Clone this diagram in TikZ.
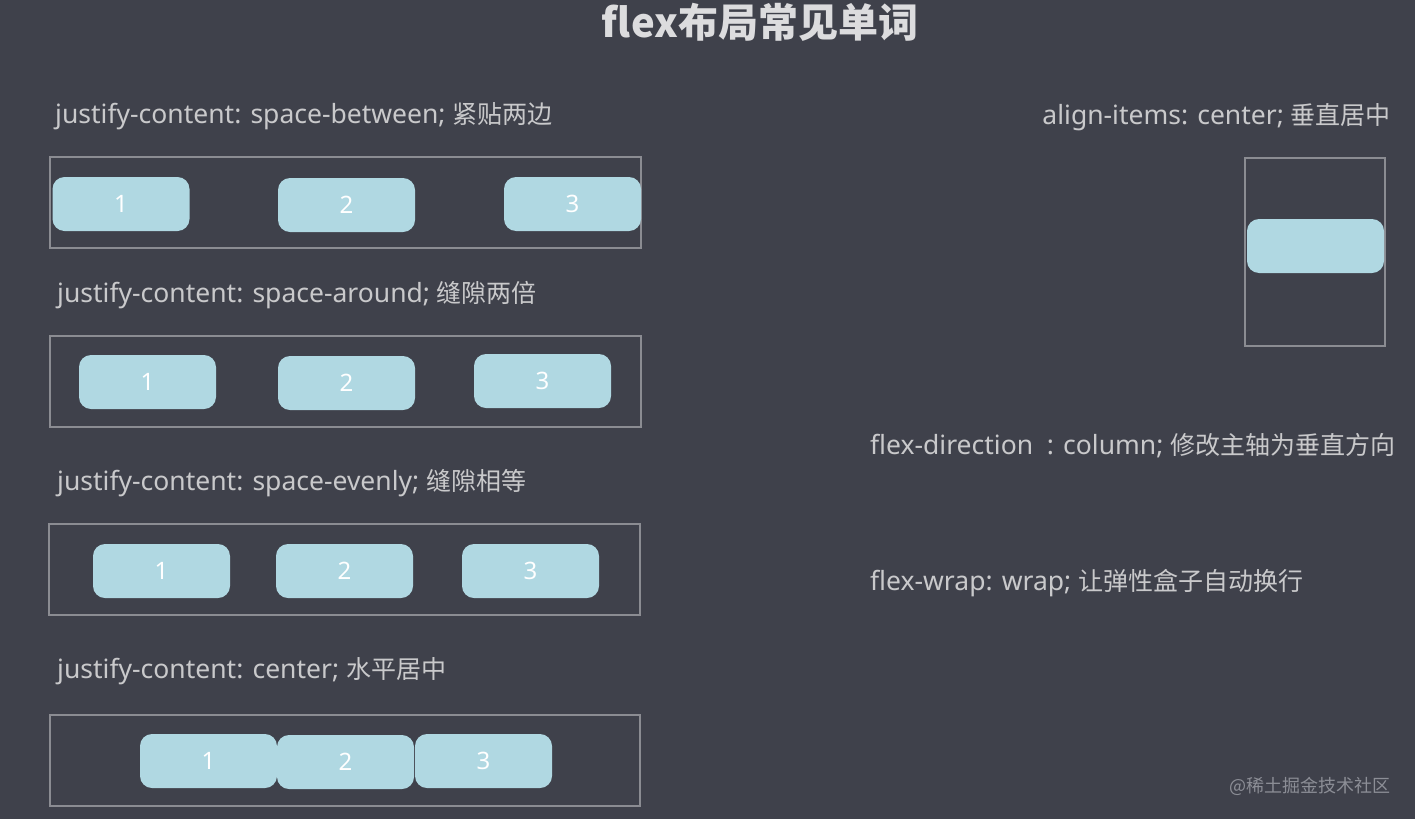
\documentclass[tikz,border=0pt]{standalone}
\usepackage{fontspec}
\setmainfont{Noto Sans}
\newfontfamily\cjk{Noto Sans CJK SC}
\usetikzlibrary{positioning}
\definecolor{bgdark}{HTML}{3F414B}
\definecolor{labelgray}{HTML}{C9C9CB}
\definecolor{framegray}{HTML}{8B8C92}
\definecolor{itemblue}{HTML}{B0D8E2}
\definecolor{markgray}{HTML}{8C8E96}
\definecolor{titlegray}{HTML}{DCDCDE}
\newcommand\zh[1]{{\cjk\fontsize{25}{28}\selectfont #1}}

\begin{document}
\begin{tikzpicture}[x=1pt,y=-1pt,
	cssline/.style={text=labelgray, font=\fontsize{26.5}{30}\selectfont, inner sep=0pt},
	frame/.style={draw=framegray, line width=1.6pt, minimum width=591pt, minimum height=91pt, inner sep=0pt},
	flexitem/.style={fill=itemblue, rounded corners=12pt, minimum width=137pt, minimum height=54pt,
		text=white, font=\fontsize{24}{28}\selectfont, inner sep=0pt}]
	\useasboundingbox[fill=bgdark] (0,0) rectangle (1415,819);
	% title
	\node[anchor=base, text=titlegray, font=\fontsize{40}{44}\selectfont\cjk\bfseries] (title) at (760,37) {flex布局常见单词};
	% space-between
	\node[cssline, anchor=base west] (between) at (55,123) {justify-content: space-between; \zh{紧贴两边}};
	\node[frame] (betweenbox) at (345.5,202.5) {};
	\node[flexitem] (b1) at (121,204) {1};
	\node[flexitem] (b2) at (346.5,205) {2};
	\node[flexitem] (b3) at (572.5,204) {3};
	% space-around
	\node[cssline, anchor=base west] (around) at (57,302) {justify-content: space-around; \zh{缝隙两倍}};
	\node[frame] (aroundbox) at (345.5,381.5) {};
	\node[flexitem] (a1) at (147.5,382) {1};
	\node[flexitem] (a2) at (346.5,383) {2};
	\node[flexitem] (a3) at (542.5,381) {3};
	% space-evenly
	\node[cssline, anchor=base west] (evenly) at (57,490) {justify-content: space-evenly; \zh{缝隙相等}};
	\node[frame] (evenlybox) at (344.5,569.5) {};
	\node[flexitem] (e1) at (161.5,571) {1};
	\node[flexitem] (e2) at (344.5,571) {2};
	\node[flexitem] (e3) at (530.5,571) {3};
	% center
	\node[cssline, anchor=base west] (center) at (57,678) {justify-content: center; \zh{水平居中}};
	\node[frame, minimum width=590pt] (centerbox) at (345,760.5) {};
	\node[flexitem] (c1) at (208.5,761) {1};
	\node[flexitem] (c2) at (345.5,762) {2};
	\node[flexitem] (c3) at (483.5,761) {3};
	% right column
	\node[cssline, anchor=base east] (alignitems) at (1391,124) {align-items: center; \zh{垂直居中}};
	\node[frame, minimum width=140pt, minimum height=188pt] (alignbox) at (1315,252) {};
	\node[flexitem] (v1) at (1315.5,246) {};
	\node[cssline, anchor=base west] (direction) at (870,454) {flex-direction\ \ : column; \zh{修改主轴为垂直方向}};
	\node[cssline, anchor=base west] (wrap) at (870,590) {flex-wrap: wrap; \zh{让弹性盒子自动换行}};
	\node[anchor=base east, inner sep=0pt, text=markgray, font=\fontsize{18}{22}\selectfont\cjk] (mark) at (1391,792) {@稀土掘金技术社区};
\end{tikzpicture}
\end{document}
